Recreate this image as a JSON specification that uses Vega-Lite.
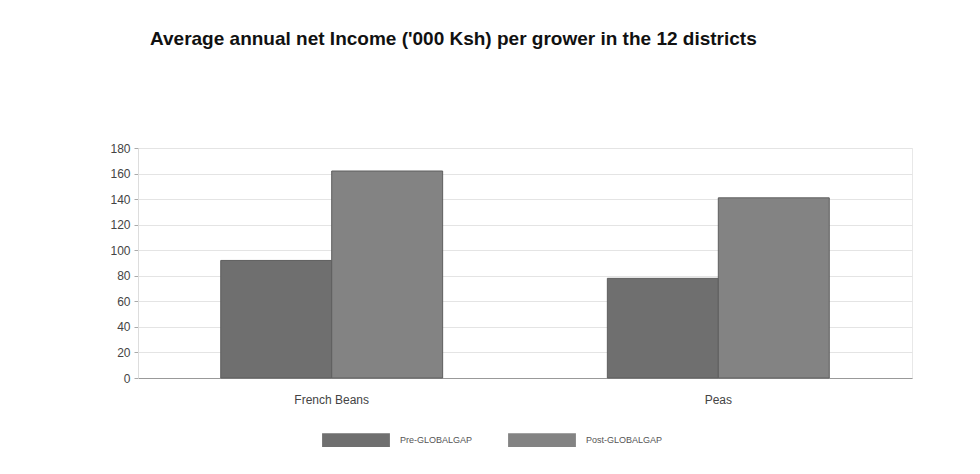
{
  "$schema": "https://vega.github.io/schema/vega-lite/v6.json",
  "autosize": "none",
  "width": 774,
  "height": 230,
  "padding": {"left": 138, "top": 148, "right": 68, "bottom": 96},
  "background": "white",
  "title": {
    "text": "Average annual net Income  ('000 Ksh) per grower in the 12 districts",
    "anchor": "start",
    "frame": "group",
    "dx": 12,
    "offset": 93,
    "font": "Liberation Sans",
    "fontSize": 19,
    "fontWeight": "bold",
    "color": "#111111"
  },
  "data": {
    "values": [
      {"crop": "French Beans", "period": "Pre-GLOBALGAP", "income": 92},
      {"crop": "French Beans", "period": "Post-GLOBALGAP", "income": 162},
      {"crop": "Peas", "period": "Pre-GLOBALGAP", "income": 78},
      {"crop": "Peas", "period": "Post-GLOBALGAP", "income": 141}
    ]
  },
  "mark": {"type": "bar", "stroke": "#5e5e5e", "strokeWidth": 1},
  "encoding": {
    "x": {
      "field": "crop",
      "type": "nominal",
      "sort": ["French Beans", "Peas"],
      "scale": {"paddingInner": 0.426, "paddingOuter": 0.214},
      "axis": {
        "title": null,
        "labelAngle": 0,
        "labelFont": "Liberation Sans",
        "labelFontSize": 12,
        "labelColor": "#444444",
        "labelPadding": 16,
        "ticks": false,
        "domainColor": "#999999"
      }
    },
    "xOffset": {
      "field": "period",
      "type": "nominal",
      "sort": ["Pre-GLOBALGAP", "Post-GLOBALGAP"],
      "scale": {"paddingInner": 0, "paddingOuter": 0}
    },
    "y": {
      "field": "income",
      "type": "quantitative",
      "scale": {"domain": [0, 180], "nice": false},
      "axis": {
        "title": null,
        "values": [0, 20, 40, 60, 80, 100, 120, 140, 160, 180],
        "labelFont": "Liberation Sans",
        "labelFontSize": 12,
        "labelColor": "#444444",
        "tickSize": 4,
        "tickColor": "#aaaaaa",
        "domainColor": "#dddddd",
        "gridColor": "#e4e4e4",
        "labelPadding": 4
      }
    },
    "color": {
      "field": "period",
      "type": "nominal",
      "sort": ["Pre-GLOBALGAP", "Post-GLOBALGAP"],
      "scale": {"range": ["#6f6f6f", "#838383"]},
      "legend": {
        "title": null,
        "orient": "none",
        "direction": "horizontal",
        "legendX": 184,
        "legendY": 258,
        "symbolType": "M-1,-0.2H1V0.2H-1Z",
        "symbolSize": 4600,
        "symbolStrokeWidth": 0,
        "labelFont": "Liberation Sans",
        "labelFontSize": 9,
        "labelColor": "#555555",
        "labelOffset": 10,
        "columnPadding": 35
      }
    }
  },
  "config": {
    "view": {"stroke": "#e8e8e8"}
  }
}
